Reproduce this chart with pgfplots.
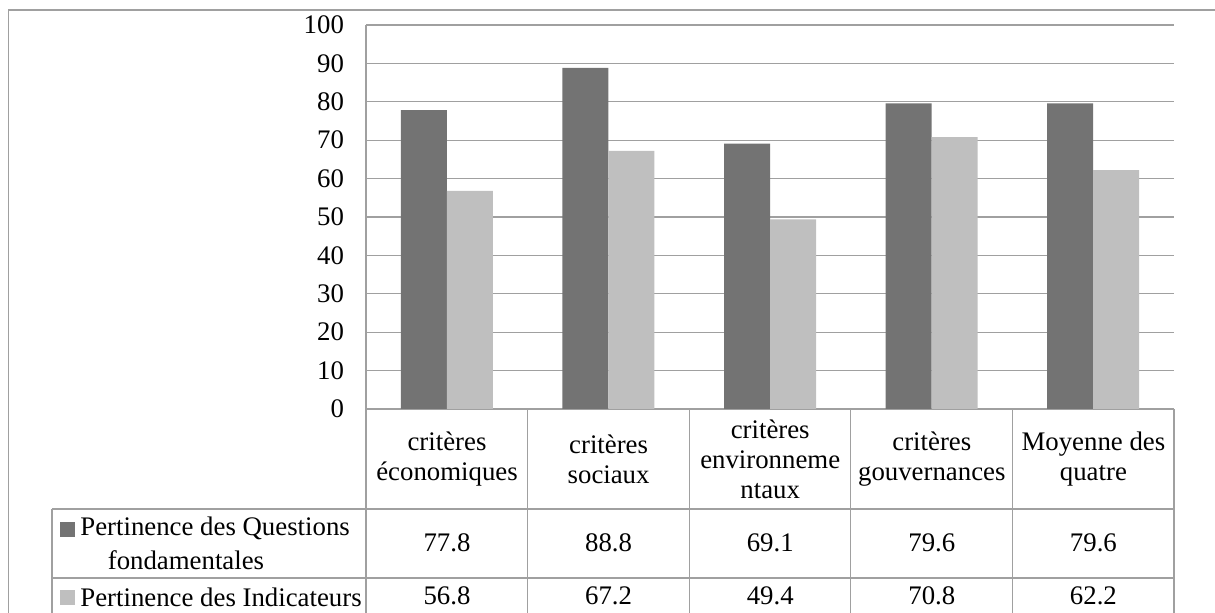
\documentclass[border=0pt]{standalone}
\usepackage{fontspec}
\setmainfont{Liberation Serif}
\usepackage{pgfplots}
\usepackage{pgfplotstable}
\pgfplotsset{compat=1.18}

\definecolor{qdark}{RGB}{115,115,115}
\definecolor{ilight}{RGB}{191,191,191}
\definecolor{gridc}{RGB}{160,160,160}

% q = Pertinence des Questions fondamentales, i = Pertinence des Indicateurs
\pgfplotstableread{
x q i
0 77.8 56.8
1 88.8 67.2
2 69.1 49.4
3 79.6 70.8
4 79.6 62.2
}\datatable

\newcommand\cellfont{\fontsize{13.4}{15}\selectfont}

\begin{document}
\begin{tikzpicture}
\path[use as bounding box] (0,0) rectangle (607.5pt,-306.5pt);
\begin{axis}[
  at={(183pt,-204.5pt)}, anchor=south west,
  scale only axis, width=404pt, height=192pt,
  xmin=-0.5, xmax=4.5, ymin=0, ymax=100,
  ybar=0pt, bar width=23pt,
  axis y line*=left, axis x line*=bottom,
  axis line style={gridc, line width=0.65pt},
  xtick=\empty, ytick={0,10,...,100},
  ymajorgrids, grid style={gridc, line width=0.65pt},
  major tick length=0pt,
  tick label style={font=\cellfont},
  /pgf/number format/assume math mode=true,
  yticklabel style={xshift=-7.5pt},
  clip=false,
]
\addplot[fill=qdark, draw=none] table[x=x, y=q] {\datatable};
\addplot[fill=ilight, draw=none] table[x=x, y=i] {\datatable};
\end{axis}
% data table below the chart (coordinates in pixels of the reference)
\begin{scope}[x=0.5pt, y=-0.5pt, every node/.style={font=\cellfont, align=center, inner sep=0pt}]
  \draw[gridc, line width=0.65pt] (8.5,10) rectangle (1300,700);
  \draw[gridc, line width=0.65pt] (52,509) -- (1174,509) (52,578) -- (1174,578) (52,614) -- (1174,614)
    (52,509) -- (52,614);
  \foreach \k in {0,...,5} \draw[gridc, line width=0.65pt] (366+161.6*\k,409) -- (366+161.6*\k,614);
  \foreach \k/\lab in {0/{critères\\économiques}, 1/{critères\\sociaux}, 2/{critères\\environneme\\ntaux},
                       3/{critères\\gouvernances}, 4/{Moyenne des\\quatre}}
    \node at (447+161.6*\k,459) {\lab};
  \foreach \k in {0,...,4}{
    \pgfplotstablegetelem{\k}{q}\of\datatable
    \node at (447+161.6*\k,543) {\pgfplotsretval};
    \pgfplotstablegetelem{\k}{i}\of\datatable
    \node at (447+161.6*\k,596) {\pgfplotsretval};
  }
  \fill[qdark] (60,522) rectangle (75,537);
  \node[anchor=west] at (80,528) {Pertinence des Questions};
  \node at (186,560) {fondamentales};
  \fill[ilight] (60,590) rectangle (75,605);
  \node[anchor=west] at (80,597) {Pertinence des Indicateurs};
\end{scope}
\end{tikzpicture}
\end{document}
